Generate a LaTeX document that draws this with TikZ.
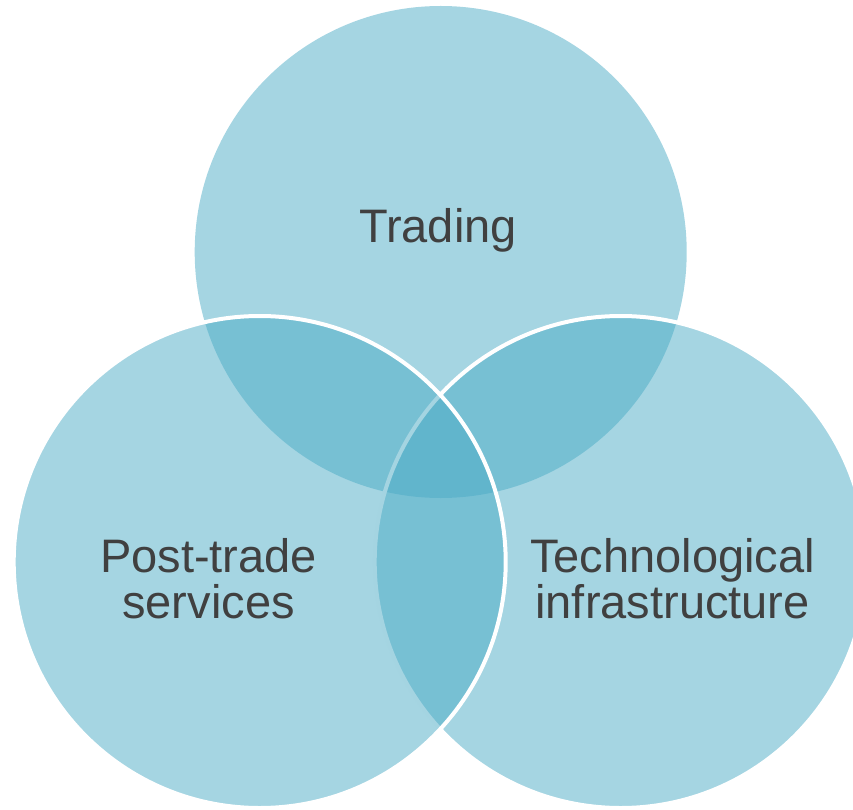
\documentclass[tikz,border=0pt]{standalone}
\usepackage{fontspec}
\setmainfont{Liberation Sans}
\definecolor{venn}{RGB}{75,171,197}
\definecolor{txt}{RGB}{64,64,64}
\tikzset{
  vcircle/.style={circle, minimum size=492pt, inner sep=0pt, outer sep=0pt, fill=venn, fill opacity=0.5},
  vline/.style={draw=white, line width=4pt, draw opacity=1},
  vlabel/.style={text=txt, align=center, font=\fontsize{47}{46}\selectfont, anchor=base}
}
\begin{document}
\begin{tikzpicture}[x=1pt,y=-1pt]
\useasboundingbox (0,0) rectangle (853,810);
\clip (0,0) rectangle (853,810);
\node[vcircle] (top) at (440.7,252) {};
\node[vcircle, vline] (right) at (620.7,562) {};
\node[vcircle, vline] (left) at (259.7,562) {};
\node[vlabel] (ttrading) at (438,242.5) {Trading};
\node[vlabel] (tpost) at (208.5,618) {Post-trade\\services};
\node[vlabel] (ttech) at (672.5,618.5) {Technological\\infrastructure};
\end{tikzpicture}
\end{document}
